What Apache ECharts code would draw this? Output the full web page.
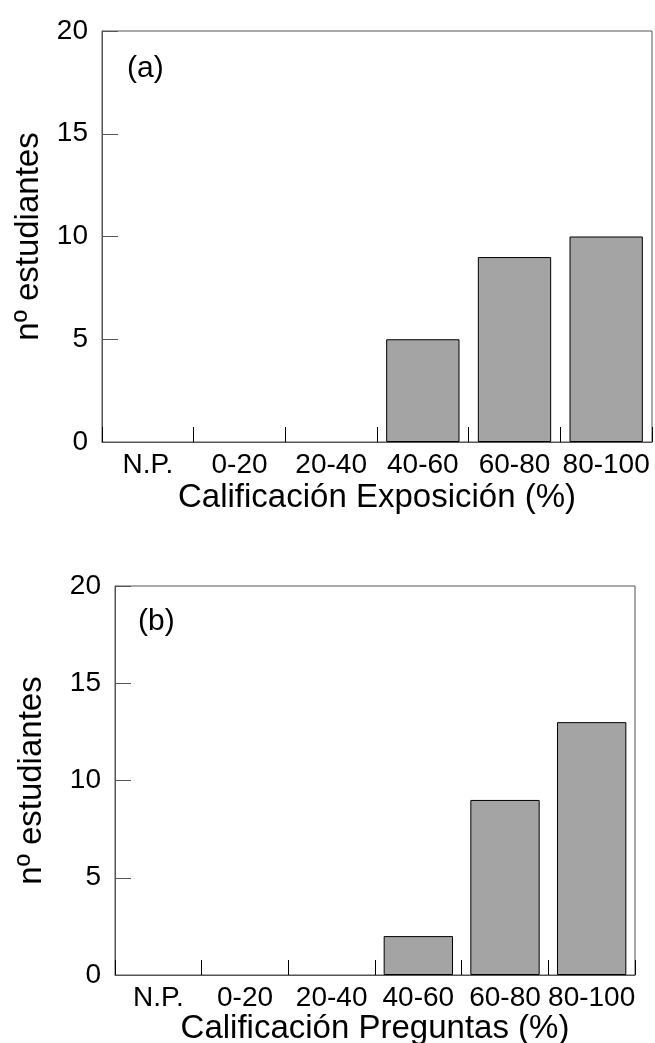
<!DOCTYPE html>
<html>
  <head>
    <meta charset="utf-8">
    <title></title>
    <style media="screen">
    html, body {margin:0; padding:0; background:#fff}
    #chart {width:655px; height:1043px}
    </style>
    <script src="https://cdn.jsdelivr.net/npm/echarts@6/dist/echarts.min.js" charset="utf-8"></script>
    <script>
    // datos
    const categorias=['N.P.', '0-20', '20-40', '40-60', '60-80', '80-100'];
    const exposicion=[0, 0, 0, 5, 9, 10];
    const preguntas=[0, 0, 0, 2, 9, 13];
    const ticksY=[0, 5, 10, 15, 20];

    const fuente='"Liberation Sans", Arial, sans-serif';
    const gris='#555';

    window.onload=function (){
      let chart=echarts.init(document.getElementById('chart'));

      function ejeX(idx, nombre){
        return {
          type: 'category',
          gridIndex: idx,
          data: categorias,
          boundaryGap: true,
          name: nombre,
          nameLocation: 'middle',
          nameGap: idx==0 ? 39 : 35,
          nameTextStyle: {fontFamily: fuente, fontSize: 33, color: '#000'},
          axisLine: {show: true, lineStyle: {color: gris, width: 1}},
          axisTick: {show: true, inside: true, length: 15, alignWithLabel: false, lineStyle: {color: '#000'}},
          axisLabel: {fontFamily: fuente, fontSize: 28, color: '#000', margin: 9, interval: 0},
          splitLine: {show: false}
        };
      }

      function ejeY(idx, gap){
        return {
          type: 'value',
          gridIndex: idx,
          min: ticksY[0],
          max: ticksY[ticksY.length-1],
          interval: 5,
          name: 'nº estudiantes',
          nameLocation: 'middle',
          nameGap: gap,
          nameRotate: 90,
          nameTextStyle: {fontFamily: fuente, fontSize: 33, color: '#000'},
          axisLine: {show: true, lineStyle: {color: gris, width: 1}},
          axisTick: {show: true, inside: true, length: 16, lineStyle: {color: gris}},
          axisLabel: {fontFamily: fuente, fontSize: 28, color: '#000', margin: 14},
          splitLine: {show: false}
        };
      }

      // las barras con valor 0 no se dibujan en la figura original
      function serie(idx, datos){
        return {
          type: 'bar',
          xAxisIndex: idx,
          yAxisIndex: idx,
          data: datos.map(v=>({value: v, itemStyle: {borderWidth: v ? 1 : 0, opacity: v ? 1 : 0}})),
          barCategoryGap: '20%',
          itemStyle: {color: '#a4a4a4', borderColor: '#000', borderWidth: 1},
          silent: true
        };
      }

      let option={
        animation: false,
        title: [
          {text: '(a)', left: 122, top: 49, textStyle: {fontFamily: fuente, fontSize: 30, fontWeight: 'normal', color: '#000'}},
          {text: '(b)', left: 133, top: 602, textStyle: {fontFamily: fuente, fontSize: 30, fontWeight: 'normal', color: '#000'}}
        ],
        grid: [
          {left: 102, top: 31, width: 550, height: 411, outerBoundsMode: 'none', containLabel: false,
           show: true, borderColor: gris, borderWidth: 1, backgroundColor: 'transparent'},
          {left: 115, top: 586, width: 520, height: 389, outerBoundsMode: 'none', containLabel: false,
           show: true, borderColor: gris, borderWidth: 1, backgroundColor: 'transparent'}
        ],
        xAxis: [ejeX(0, 'Calificación Exposición (%)'), ejeX(1, 'Calificación Preguntas (%)')],
        yAxis: [ejeY(0, 57), ejeY(1, 67)],
        series: [serie(0, exposicion), serie(1, preguntas)]
      };

      chart.setOption(option);
    };
    </script>
  </head>
  <body>
    <div id="chart"></div>
  </body>
</html>
